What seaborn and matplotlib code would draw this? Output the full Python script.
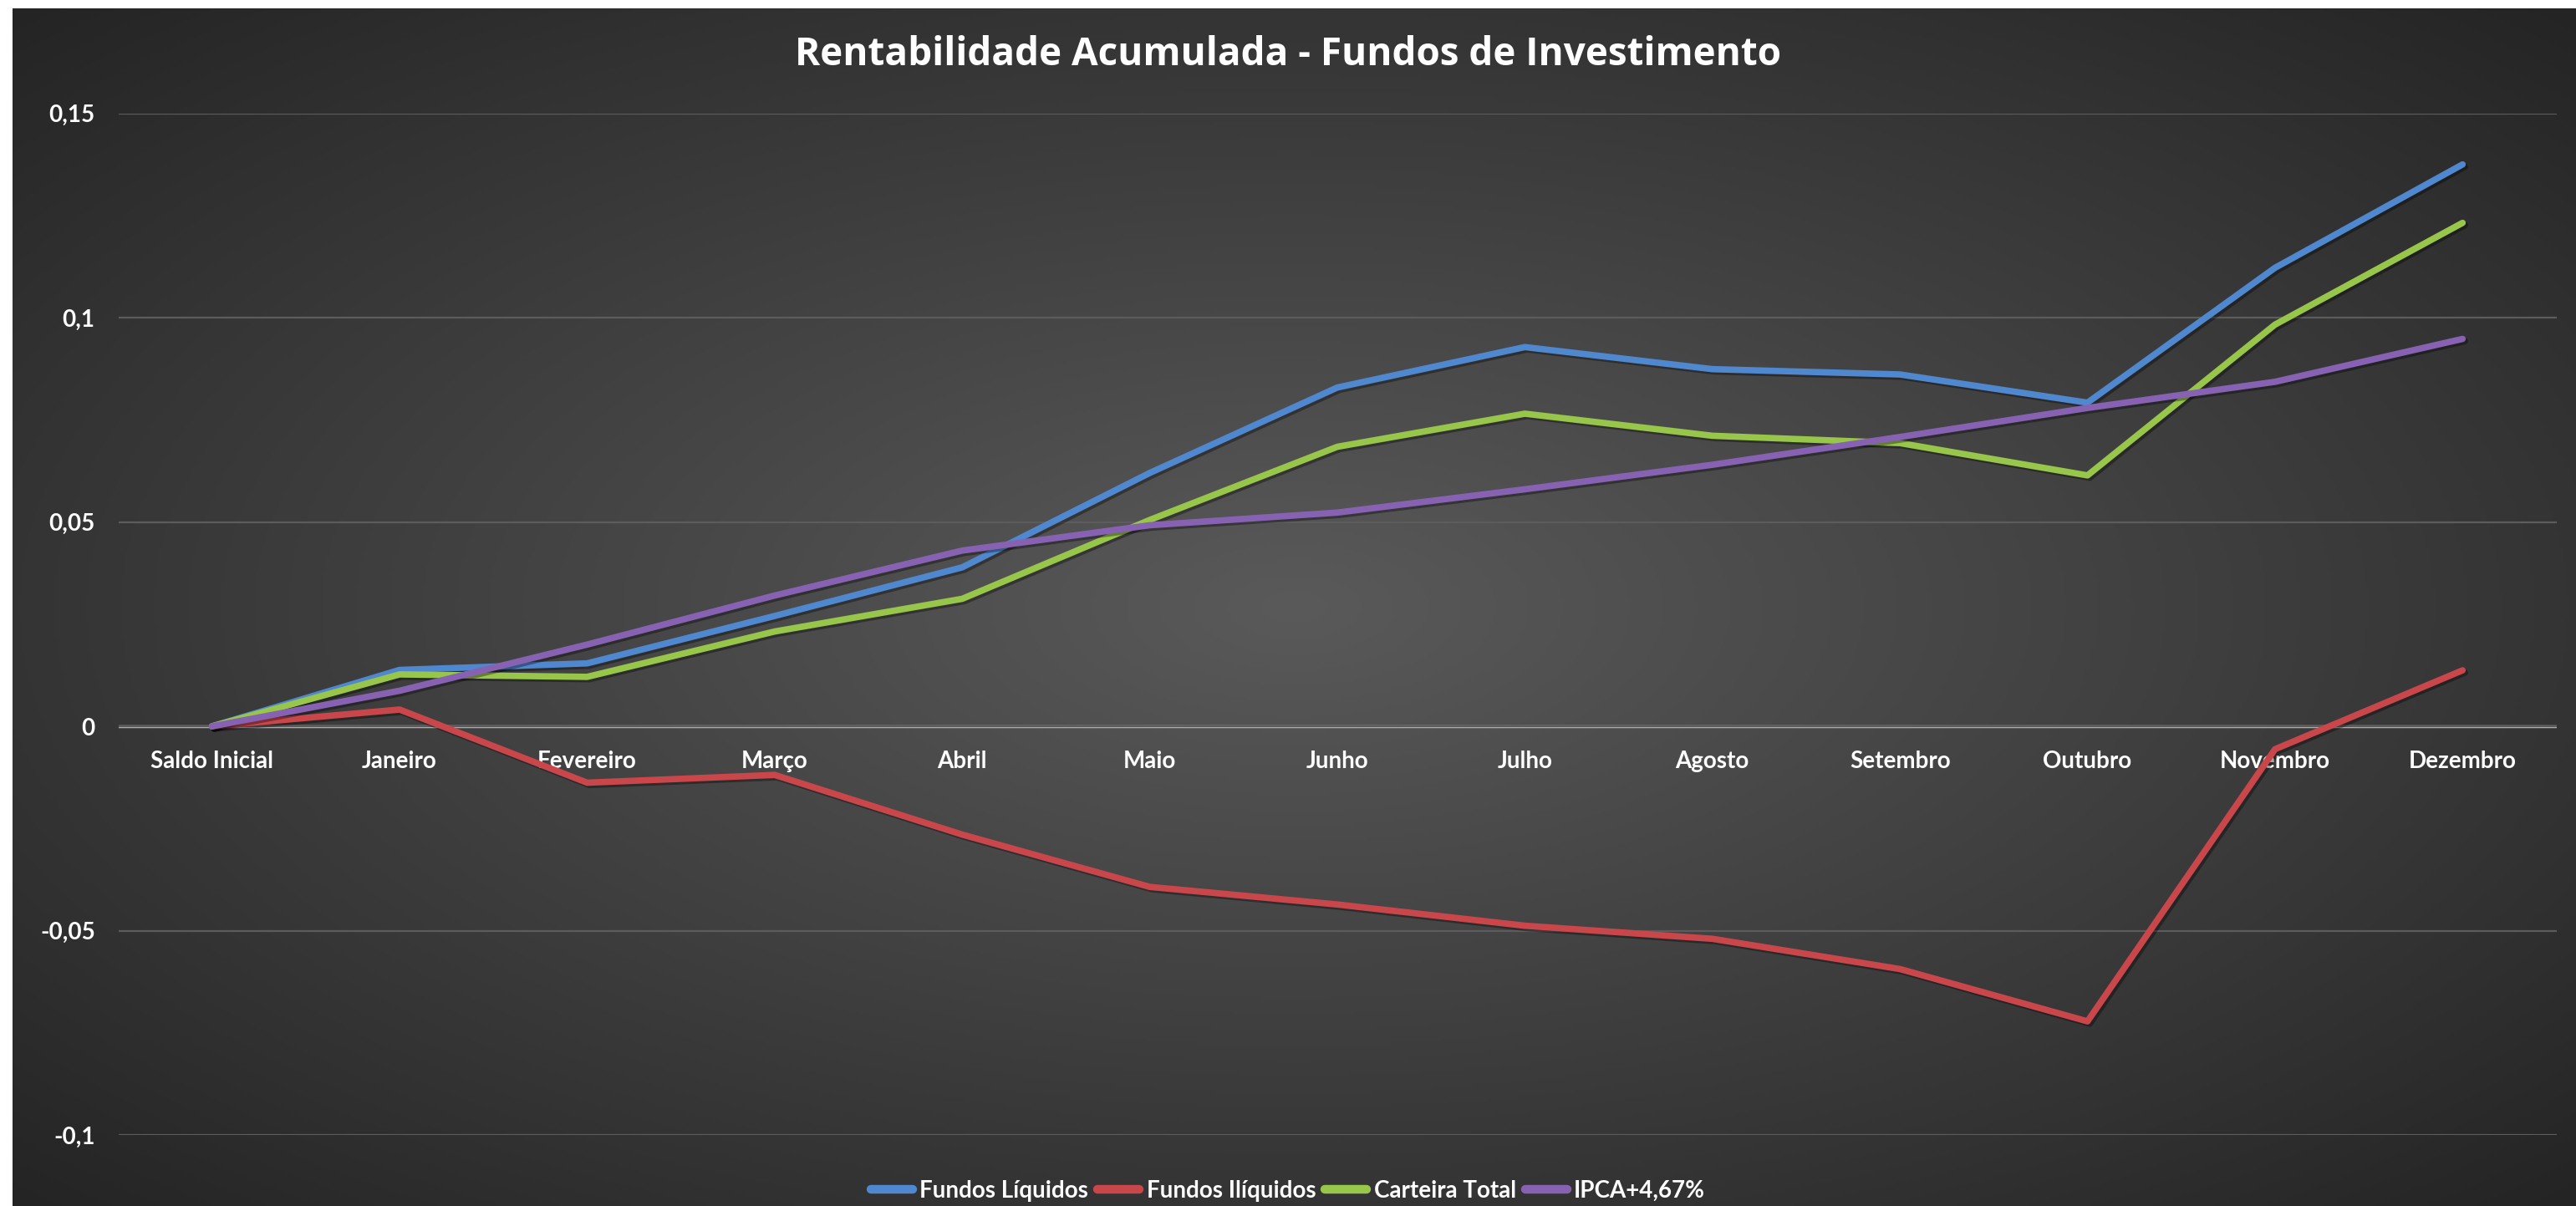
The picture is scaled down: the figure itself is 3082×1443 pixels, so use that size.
import numpy as np
import pandas as pd
import matplotlib
matplotlib.use("Agg")
import matplotlib.pyplot as plt
import matplotlib.patheffects as pe
import seaborn as sns

meses = ["Saldo Inicial", "Janeiro", "Fevereiro", "Março", "Abril", "Maio", "Junho",
         "Julho", "Agosto", "Setembro", "Outubro", "Novembro", "Dezembro"]

fundos_liquidos = [0, 0.0138, 0.0154, 0.0270, 0.0389, 0.0620, 0.0829, 0.0928, 0.0874,
                   0.0861, 0.0792, 0.1122, 0.1375]
fundos_iliquidos = [0, 0.0041, -0.0138, -0.0119, -0.0265, -0.0393, -0.0436, -0.0488, -0.0520,
                    -0.0594, -0.0722, -0.0056, 0.0137]
carteira_total = [0, 0.0127, 0.0121, 0.0232, 0.0312, 0.0505, 0.0684, 0.0765, 0.0711,
                  0.0693, 0.0614, 0.0983, 0.1232]
ipca = [0, 0.0087, 0.0200, 0.0320, 0.0430, 0.0492, 0.0523, 0.0580, 0.0640,
        0.0708, 0.0779, 0.0843, 0.0948]

series = ["Fundos Líquidos", "Fundos Ilíquidos", "Carteira Total", "IPCA+4,67%"]
cores = {"Fundos Líquidos": "#4F88CE", "Fundos Ilíquidos": "#C9474B",
         "Carteira Total": "#97C64A", "IPCA+4,67%": "#8862B2"}

df = pd.DataFrame({"mes": meses, series[0]: fundos_liquidos, series[1]: fundos_iliquidos,
                   series[2]: carteira_total, series[3]: ipca})
df_longo = df.melt(id_vars="mes", var_name="serie", value_name="valor")

plt.rcParams["font.family"] = ["Lato", "DejaVu Sans"]

fig = plt.figure(figsize=(30.82, 14.43), dpi=100)
fig.patch.set_facecolor("white")

# fundo com gradiente radial (estilo Excel)
bg = fig.add_axes([15 / 3082, 0, 1 - 15 / 3082, 1 - 10 / 1443])
yy, xx = np.mgrid[0:1:400j, 0:1:800j]
r = np.sqrt(((xx - 0.5) / 0.5) ** 2 + ((yy - 0.5) / 0.5) ** 2) / np.sqrt(2)
r = np.clip(r, 0, 1)
centro = np.array([0x5a, 0x5a, 0x5a]) / 255
borda = np.array([0x24, 0x24, 0x24]) / 255
img = centro[None, None, :] * (1 - r[..., None]) + borda[None, None, :] * r[..., None]
bg.imshow(img, aspect="auto", extent=[0, 1, 0, 1])
bg.set_axis_off()

ax = fig.add_axes([141.5 / 3082, 1 - 1358 / 1443, (3058.5 - 141.5) / 3082, (1358 - 135.6) / 1443])
ax.patch.set_alpha(0)

sns.lineplot(data=df_longo, x="mes", y="valor", hue="serie", palette=cores, sort=False,
             linewidth=5.5, ax=ax, solid_capstyle="round", solid_joinstyle="round",
             path_effects=[pe.SimpleLineShadow(offset=(2, -2), shadow_color="black", alpha=0.35),
                           pe.Normal()])

ax.set_xlim(-0.5, 12.5)
ax.set_ylim(-0.1, 0.15)
ax.set_yticks([-0.1, -0.05, 0, 0.05, 0.1, 0.15])
ax.set_yticklabels(["-0,1", "-0,05", "0", "0,05", "0,1", "0,15"])
ax.grid(axis="y", color="#5c5c5c", linewidth=1.6)
ax.grid(axis="x", visible=False)
ax.axhline(0, color="#b5b5b5", linewidth=2.5, zorder=1)

for s in ["top", "right", "left"]:
    ax.spines[s].set_visible(False)
ax.spines["bottom"].set_position(("data", 0))
ax.spines["bottom"].set_visible(False)

ax.tick_params(axis="both", length=0, colors="white", labelsize=20)
ax.tick_params(axis="x", pad=21)
ax.tick_params(axis="y", pad=20)
for lbl in ax.get_xticklabels() + ax.get_yticklabels():
    lbl.set_fontweight("bold")
    lbl.set_color("white")
ax.set_xlabel("")
ax.set_ylabel("")

handles, labels = ax.get_legend_handles_labels()
ax.get_legend().remove()
for h in handles:
    h.set_linewidth(7.5)
    h.set_solid_capstyle("round")
    h.set_path_effects([])
leg = fig.legend(handles, labels, loc="center", bbox_to_anchor=(0.5, 1 - 1425 / 1443),
                 ncol=4, frameon=False, fontsize=20, handlelength=1.8, handletextpad=0.3,
                 columnspacing=0.4)
for t in leg.get_texts():
    t.set_color("white")
    t.set_fontweight("bold")

fig.text(0.5, 1 - 65 / 1443, "Rentabilidade Acumulada - Fundos de Investimento",
         ha="center", va="center", color="white", fontsize=33, fontweight="bold",
         family=["Open Sans", "DejaVu Sans"])

fig.savefig("out.png", dpi=100, facecolor=fig.get_facecolor())
